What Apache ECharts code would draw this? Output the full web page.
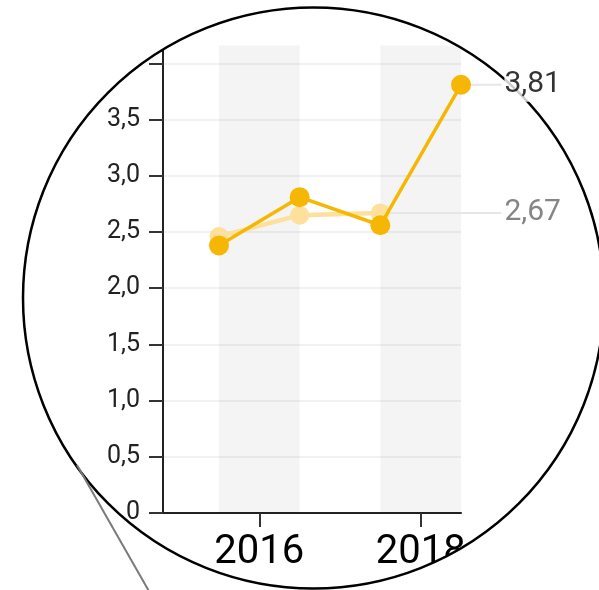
<!DOCTYPE html>
<html>
<head>
<meta charset="utf-8">
<script src="https://cdn.jsdelivr.net/npm/echarts@6/dist/echarts.min.js"></script>
<style>
html,body{margin:0;padding:0;background:#fff;}
#chart{width:599px;height:590px;}
</style>
</head>
<body>
<div id="chart"></div>
<script>
// ---- data ----
var xValues = [2015.5, 2016.5, 2017.5, 2018.5];
var seriesMain = [2.38, 2.81, 2.56, 3.81];      // dark amber series
var seriesLight = [2.46, 2.65, 2.67];           // pale series (ends at 2017.5)
var xTickLabels = [2016, 2018];
var bandRanges = [[2015.5, 2016.5], [2017.5, 2018.5]];

// ---- layout / style constants ----
var X_MIN = 2014.806, X_MAX = 2018.5;
var Y_MIN = 0, Y_MAX = 4.5, BAND_TOP = 4.16;
var GRID_LEFT = 163, GRID_RIGHT = 138, GRID_TOP = 7.2, GRID_BOTTOM = 77;
var LEADER_RIGHT = 97;   // grid for leader lines extends to x≈502
var X_MAX_LEADER = X_MIN + (X_MAX - X_MIN) * (599 - GRID_LEFT - LEADER_RIGHT) / (599 - GRID_LEFT - GRID_RIGHT);
var LEADER_END = 2019.0;
var CX = 313.5, CY = 298, R = 290.5;
var FONT = 'Roboto';
var DARK = '#F6B704', LIGHT = '#FCE09C';

function fmtComma(v, d) { return v === 0 ? '0' : v.toFixed(d).replace('.', ','); }
function pairs(xs, ys) { return ys.map(function (y, i) { return [xs[i], y]; }); }

var lastMain = seriesMain[seriesMain.length - 1];
var lastMainX = xValues[seriesMain.length - 1];
var lastLight = seriesLight[seriesLight.length - 1];
var lastLightX = xValues[seriesLight.length - 1];

var chart = echarts.init(document.getElementById('chart'), null, {renderer: 'canvas'});
var option = {
  animation: false,
  textStyle: {fontFamily: FONT},
  grid: [
    {left: GRID_LEFT, right: GRID_RIGHT, top: GRID_TOP, bottom: GRID_BOTTOM, containLabel: false, outerBoundsMode: 'none'},
    {left: GRID_LEFT, right: LEADER_RIGHT, top: GRID_TOP, bottom: GRID_BOTTOM, containLabel: false, outerBoundsMode: 'none'}
  ],
  xAxis: [
    {
      type: 'value', gridIndex: 0, min: X_MIN, max: X_MAX,
      axisLine: {show: true, onZero: false, lineStyle: {color: '#222', width: 2}},
      axisTick: {show: true, length: 14, customValues: xTickLabels, lineStyle: {color: '#333', width: 2}},
      axisLabel: {show: true, customValues: xTickLabels, margin: 20, fontSize: 40, color: '#000', fontFamily: FONT,
        formatter: function (v) { return String(v); }},
      splitLine: {show: false}
    },
    {
      type: 'value', gridIndex: 1, min: X_MIN, max: X_MAX_LEADER, show: false
    }
  ],
  yAxis: [
    {
      type: 'value', gridIndex: 0, min: Y_MIN, max: Y_MAX, interval: 0.5,
      axisLine: {show: true, lineStyle: {color: '#222', width: 2}},
      axisTick: {show: true, length: 14, lineStyle: {color: '#333', width: 2}},
      axisLabel: {margin: 23, fontSize: 25, color: '#222', fontFamily: FONT,
        formatter: function (v) { return fmtComma(v, 1); }},
      splitLine: {show: true, lineStyle: {color: '#ececec', width: 1.5}}
    },
    {
      type: 'value', gridIndex: 1, min: Y_MIN, max: Y_MAX, show: false
    }
  ],
  graphic: [
    {type: 'ring', silent: true, z: 50, shape: {cx: CX, cy: CY, r: 800, r0: R}, style: {fill: '#fff'}},
    {type: 'circle', silent: true, z: 51, shape: {cx: CX, cy: CY, r: R}, style: {fill: null, stroke: '#000', lineWidth: 2.5}},
    {type: 'line', silent: true, z: 51, shape: {x1: 77, y1: 465, x2: 154, y2: 600}, style: {stroke: '#7a7a7a', lineWidth: 2}}
  ],
  series: [
    {
      type: 'line', xAxisIndex: 0, yAxisIndex: 0, z: 1, data: [], silent: true,
      markArea: {
        silent: true,
        itemStyle: {color: 'rgba(0,0,0,0.045)'},
        data: bandRanges.map(function (b) { return [{xAxis: b[0], yAxis: Y_MIN}, {xAxis: b[1], yAxis: BAND_TOP}]; })
      }
    },
    {
      type: 'line', xAxisIndex: 1, yAxisIndex: 1, z: 1, silent: true, symbol: 'none',
      lineStyle: {color: '#e6e6e6', width: 2},
      data: [[lastLightX, lastLight], [LEADER_END, lastLight]]
    },
    {
      type: 'line', xAxisIndex: 1, yAxisIndex: 1, z: 1, silent: true, symbol: 'none',
      lineStyle: {color: '#e6e6e6', width: 2},
      data: [[lastMainX, lastMain], [LEADER_END, lastMain]]
    },
    {
      type: 'line', xAxisIndex: 0, yAxisIndex: 0, z: 2, silent: true,
      symbol: 'circle', symbolSize: 19,
      itemStyle: {color: LIGHT}, lineStyle: {color: LIGHT, width: 4.5},
      data: pairs(xValues, seriesLight)
    },
    {
      type: 'line', xAxisIndex: 0, yAxisIndex: 0, z: 3, silent: true,
      symbol: 'circle', symbolSize: 20,
      itemStyle: {color: DARK}, lineStyle: {color: DARK, width: 3.5},
      data: pairs(xValues, seriesMain)
    },
    {
      type: 'scatter', xAxisIndex: 1, yAxisIndex: 1, zlevel: 1, z: 100, silent: true,
      symbolSize: 0.1, itemStyle: {color: 'rgba(0,0,0,0)'},
      label: {show: true, position: 'right', distance: 3, fontSize: 30, fontFamily: FONT,
        backgroundColor: '#fff', padding: [2, 0, 2, 0],
        formatter: function (p) { return fmtComma(p.value[1], 2); }},
      data: [
        {value: [LEADER_END, lastMain], label: {color: '#000'}},
        {value: [LEADER_END, lastLight], label: {color: '#666'}}
      ]
    }
  ]
};
chart.setOption(option);
</script>
</body>
</html>
